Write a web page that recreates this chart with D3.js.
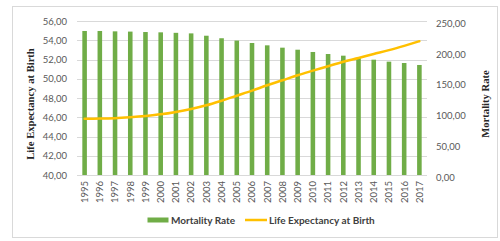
<!DOCTYPE html>
<html>
<head>
<meta charset="utf-8">
<script src="https://cdn.jsdelivr.net/npm/d3@7"></script>
<style>
  body { margin: 0; background: #fff; }
  svg { display: block; }
</style>
</head>
<body>
<svg id="chart"></svg>
<script>
const years = ['1995','1996','1997','1998','1999','2000','2001','2002','2003','2004','2005','2006',
  '2007','2008','2009','2010','2011','2012','2013','2014','2015','2016','2017'];
const mortalityRate = [233.8, 233.8, 233.2, 232.8, 232.1, 231.6, 230.8, 229.9, 226.1, 222.0, 218.2, 214.3,
  210.5, 206.7, 203.4, 199.7, 196.4, 193.7, 190.0, 187.2, 184.0, 181.8, 178.6];
const lifeExpectancy = [45.85, 45.86, 45.9, 46.0, 46.13, 46.3, 46.55, 46.86, 47.24, 47.72, 48.24, 48.76,
  49.32, 49.84, 50.37, 50.84, 51.3, 51.77, 52.16, 52.57, 52.97, 53.42, 53.9];
const leftTicks = [40, 42, 44, 46, 48, 50, 52, 54, 56];
const rightTicks = [0, 50, 100, 150, 200, 250];
const seriesNames = ['Mortality Rate', 'Life Expectancy at Birth'];

const width = 500, height = 241;
const marginLeft = 77, marginRight = 73, marginTop = 21, marginBottom = 66;
const fmt = (v) => d3.format('.2f')(v).replace('.', ',');

const svg = d3.select('#chart')
  .attr('width', width)
  .attr('height', height)
  .attr('viewBox', [0, 0, width, height]);

// outer frame
svg.append('rect')
  .attr('x', 12.5).attr('y', 6.5)
  .attr('width', 485).attr('height', 231)
  .attr('fill', '#fff')
  .attr('stroke', '#d9d9d9');

const x = d3.scaleBand()
  .domain(years)
  .range([marginLeft, width - marginRight])
  .paddingInner(0.7)
  .paddingOuter(0.35);

const yLeft = d3.scaleLinear().domain([40, 56]).range([height - marginBottom, marginTop]);
const yRight = d3.scaleLinear().domain([0, 250]).range([height - marginBottom, marginTop]);

// gridlines
svg.append('g')
  .selectAll('line')
  .data(leftTicks)
  .join('line')
  .attr('x1', marginLeft).attr('x2', width - marginRight)
  .attr('y1', (d) => Math.round(yLeft(d)) + 0.5)
  .attr('y2', (d) => Math.round(yLeft(d)) + 0.5)
  .attr('stroke', '#d9d9d9');

// left axis
const leftAxis = svg.append('g')
  .attr('transform', `translate(${marginLeft},0)`)
  .call(d3.axisLeft(yLeft).tickValues(leftTicks).tickFormat(fmt).tickSize(0).tickPadding(10));
leftAxis.select('.domain').remove();
leftAxis.selectAll('text')
  .attr('fill', '#595959')
  .style('font-family', 'Lato, sans-serif')
  .style('font-size', '9.5px');

// right axis
const rightAxis = svg.append('g')
  .attr('transform', `translate(${width - marginRight},0)`)
  .call(d3.axisRight(yRight).tickValues(rightTicks).tickFormat(fmt).tickSize(0).tickPadding(9));
rightAxis.select('.domain').remove();
rightAxis.selectAll('text')
  .attr('fill', '#595959')
  .attr('dy', '0.55em')
  .style('font-family', 'Lato, sans-serif')
  .style('font-size', '9.5px');

// x axis labels
const xAxis = svg.append('g')
  .attr('transform', `translate(0,${height - marginBottom})`)
  .call(d3.axisBottom(x).tickSize(0).tickPadding(0));
xAxis.select('.domain').remove();
xAxis.selectAll('text')
  .attr('transform', 'rotate(-90)')
  .attr('x', -6)
  .attr('y', 0)
  .attr('dy', '0.35em')
  .attr('text-anchor', 'end')
  .attr('fill', '#595959')
  .style('font-family', 'Lato, sans-serif')
  .style('font-size', '9.5px');

// bars
svg.append('g')
  .selectAll('rect')
  .data(years)
  .join('rect')
  .attr('x', (d) => x(d))
  .attr('width', x.bandwidth())
  .attr('y', (d, i) => yRight(mortalityRate[i]))
  .attr('height', (d, i) => yRight(0) - yRight(mortalityRate[i]))
  .attr('fill', '#70ad47');

// line
const line = d3.line()
  .x((d, i) => x(years[i]) + x.bandwidth() / 2)
  .y((d) => yLeft(d))
  .curve(d3.curveMonotoneX);
svg.append('path')
  .datum(lifeExpectancy)
  .attr('d', line)
  .attr('fill', 'none')
  .attr('stroke', '#ffc000')
  .attr('stroke-width', 2.5)
  .attr('stroke-linecap', 'round');

// axis titles
svg.append('text')
  .attr('transform', `translate(30,${(marginTop + height - marginBottom) / 2 + 6}) rotate(-90)`)
  .attr('text-anchor', 'middle')
  .attr('dy', '0.35em')
  .attr('fill', '#262626')
  .style('font-family', '"Liberation Serif", serif')
  .style('font-weight', 'bold')
  .style('font-size', '10.6px')
  .text('Life Expectancy at Birth');

svg.append('text')
  .attr('transform', `translate(485,${(marginTop + height - marginBottom) / 2 + 6}) rotate(-90)`)
  .attr('text-anchor', 'middle')
  .attr('dy', '0.35em')
  .attr('fill', '#262626')
  .style('font-family', '"Liberation Serif", serif')
  .style('font-weight', 'bold')
  .style('font-size', '10.6px')
  .text('Mortality Rate');

// legend
const legend = svg.append('g').attr('transform', 'translate(0,220)');
legend.append('rect')
  .attr('x', 147.5).attr('y', -2.5)
  .attr('width', 21).attr('height', 5)
  .attr('fill', '#70ad47');
legend.append('text')
  .attr('x', 171).attr('y', 0).attr('dy', '0.35em')
  .attr('fill', '#404040')
  .style('font-family', 'Lato, sans-serif')
  .style('font-weight', 'bold')
  .style('font-size', '10px')
  .text(seriesNames[0]);
legend.append('line')
  .attr('x1', 245).attr('x2', 267)
  .attr('y1', 0).attr('y2', 0)
  .attr('stroke', '#ffc000')
  .attr('stroke-width', 2.5);
legend.append('text')
  .attr('x', 269).attr('y', 0).attr('dy', '0.35em')
  .attr('fill', '#404040')
  .style('font-family', 'Lato, sans-serif')
  .style('font-weight', 'bold')
  .style('font-size', '10px')
  .text(seriesNames[1]);
</script>
</body>
</html>
